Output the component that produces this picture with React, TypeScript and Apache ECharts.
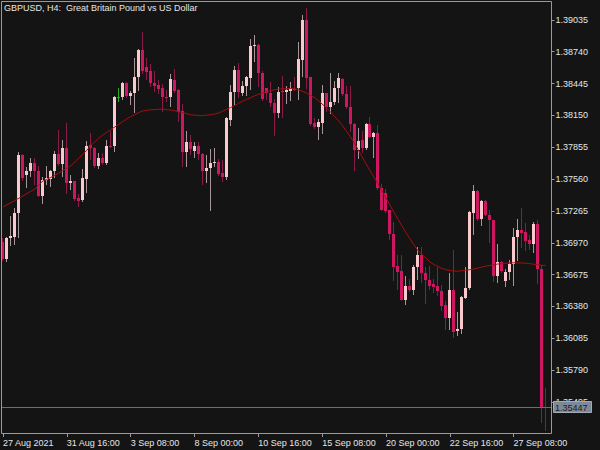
import React, { useEffect, useRef } from "react";
import * as echarts from "echarts";

const symbolTitle = "GBPUSD, H4:  Great Britain Pound vs US Dollar";

const timeLabels = [
  "27 Aug 2021", "31 Aug 16:00", "3 Sep 08:00", "8 Sep 00:00", "10 Sep 16:00",
  "15 Sep 08:00", "20 Sep 00:00", "22 Sep 16:00", "27 Sep 08:00",
];

const priceTicks = [
  1.39035, 1.3874, 1.38445, 1.3815, 1.37855, 1.3756, 1.37265, 1.3697, 1.36675,
  1.3638, 1.36085, 1.3579, 1.35495,
];

const opens = [
  1.36977, 1.36823, 1.37011, 1.37023, 1.37245, 1.37785, 1.376, 1.37633, 1.37707, 1.37639,
  1.37408, 1.37553, 1.37563, 1.37633, 1.37794, 1.37701, 1.37846, 1.37522, 1.37538, 1.37383,
  1.37362, 1.37563, 1.37877, 1.37846, 1.37679, 1.37753, 1.37707, 1.37871, 1.37864, 1.38317,
  1.38324, 1.3845, 1.38326, 1.38358, 1.38502, 1.38755, 1.38594, 1.38564, 1.3845, 1.38432,
  1.384, 1.38324, 1.38324, 1.38481, 1.38389, 1.38188, 1.37809, 1.37908, 1.37824, 1.37871,
  1.37794, 1.37639, 1.37661, 1.37707, 1.37723, 1.37618, 1.37577, 1.38111, 1.3837, 1.38573,
  1.38358, 1.38425, 1.38493, 1.38789, 1.38807, 1.38545, 1.384, 1.38354, 1.38265, 1.38173,
  1.38379, 1.38363, 1.38379, 1.38395, 1.384, 1.38666, 1.39035, 1.38502, 1.38077, 1.3804,
  1.3808, 1.38358, 1.38225, 1.38271, 1.384, 1.38487, 1.38348, 1.38225, 1.38071, 1.37834,
  1.37923, 1.37849, 1.38071, 1.37954, 1.37988, 1.37476, 1.3743, 1.3727, 1.37054, 1.36752,
  1.36706, 1.36438, 1.36567, 1.3653, 1.36745, 1.36854, 1.36694, 1.36622, 1.36585, 1.36567,
  1.36524, 1.36391, 1.36274, 1.36536, 1.36153, 1.36169, 1.36463, 1.36555, 1.37248, 1.37454,
  1.37189, 1.37356, 1.3723, 1.37177, 1.36662, 1.36792, 1.36616, 1.36699, 1.3677, 1.37023,
  1.37085, 1.37069, 1.36992, 1.36955, 1.37147, 1.36724, 1.3545,
];

const closes = [
  1.36823, 1.37017, 1.37032, 1.37248, 1.37785, 1.37568, 1.37633, 1.37707, 1.37633, 1.37408,
  1.37553, 1.37572, 1.37633, 1.37794, 1.37701, 1.37846, 1.37522, 1.37538, 1.37378, 1.37359,
  1.37568, 1.37871, 1.37846, 1.37679, 1.37753, 1.37707, 1.37871, 1.37864, 1.38324, 1.38317,
  1.3845, 1.38326, 1.38358, 1.38502, 1.38755, 1.38564, 1.38555, 1.38446, 1.38425, 1.38395,
  1.38317, 1.38308, 1.38487, 1.38379, 1.38178, 1.37809, 1.37908, 1.3784, 1.37871, 1.37794,
  1.37639, 1.37664, 1.37711, 1.37723, 1.37609, 1.37577, 1.38123, 1.3837, 1.38573, 1.38363,
  1.38425, 1.38502, 1.38795, 1.38807, 1.38539, 1.38302, 1.38354, 1.38265, 1.38176, 1.3837,
  1.38363, 1.38389, 1.38404, 1.38385, 1.38672, 1.39035, 1.38494, 1.38071, 1.3804, 1.38086,
  1.38358, 1.38225, 1.38277, 1.38404, 1.38493, 1.38348, 1.38225, 1.38071, 1.37834, 1.37917,
  1.37849, 1.38071, 1.37954, 1.37988, 1.37479, 1.37276, 1.37263, 1.37048, 1.36745, 1.36699,
  1.36444, 1.36567, 1.3653, 1.36745, 1.36854, 1.36694, 1.36622, 1.36567, 1.36561, 1.36524,
  1.36385, 1.36274, 1.36536, 1.36144, 1.36176, 1.36468, 1.36555, 1.37254, 1.37448, 1.37189,
  1.37356, 1.3723, 1.37177, 1.36662, 1.36792, 1.36708, 1.36699, 1.3677, 1.37023, 1.37085,
  1.37063, 1.36983, 1.36955, 1.37147, 1.36724, 1.3545, 1.35447,
];

const lows = [
  1.36807, 1.36801, 1.36946, 1.36962, 1.37023, 1.37553, 1.37485, 1.37587, 1.37516, 1.374,
  1.37337, 1.37516, 1.37494, 1.37577, 1.37695, 1.37593, 1.3743, 1.3747, 1.37362, 1.37313,
  1.37355, 1.37439, 1.37748, 1.37672, 1.37661, 1.377, 1.377, 1.3786, 1.37824, 1.38287,
  1.38302, 1.3832, 1.38256, 1.38178, 1.38385, 1.38545, 1.38487, 1.38425, 1.38379, 1.38354,
  1.38194, 1.38287, 1.3824, 1.38363, 1.381, 1.37686, 1.37686, 1.37794, 1.37762, 1.37748,
  1.37516, 1.37531, 1.3727, 1.37686, 1.376, 1.3754, 1.37563, 1.38062, 1.38256, 1.38324,
  1.38342, 1.38342, 1.38395, 1.38656, 1.38425, 1.38296, 1.38302, 1.3824, 1.37972, 1.38139,
  1.38139, 1.38262, 1.38293, 1.38383, 1.38302, 1.38511, 1.38404, 1.38065, 1.38035, 1.37932,
  1.37984, 1.38194, 1.38173, 1.38256, 1.38277, 1.38342, 1.38219, 1.38009, 1.37646, 1.37757,
  1.37809, 1.37843, 1.37948, 1.37762, 1.37473, 1.3727, 1.37257, 1.37008, 1.36622, 1.36546,
  1.36438, 1.36407, 1.36524, 1.36493, 1.36638, 1.36607, 1.36413, 1.36546, 1.36514, 1.36484,
  1.36352, 1.36167, 1.36167, 1.36098, 1.3612, 1.36135, 1.36457, 1.36546, 1.37054, 1.3718,
  1.37134, 1.37224, 1.36977, 1.36613, 1.36607, 1.36702, 1.36567, 1.36638, 1.36583, 1.36807,
  1.3693, 1.369, 1.36909, 1.36884, 1.36597, 1.35312, 1.35236,
];

const highs = [
  1.37011, 1.37023, 1.37214, 1.37295, 1.37809, 1.37794, 1.3767, 1.37757, 1.37757, 1.37686,
  1.37577, 1.37679, 1.37646, 1.37824, 1.38018, 1.37926, 1.3808, 1.37602, 1.37545, 1.37424,
  1.37655, 1.3791, 1.37988, 1.37855, 1.37799, 1.37803, 1.37923, 1.38009, 1.3833, 1.384,
  1.38462, 1.38462, 1.38379, 1.38681, 1.38765, 1.38924, 1.38678, 1.38626, 1.38564, 1.38478,
  1.38441, 1.38389, 1.38533, 1.3858, 1.38395, 1.38256, 1.38009, 1.37969, 1.37901, 1.37901,
  1.378, 1.37787, 1.3784, 1.37849, 1.37748, 1.37741, 1.38132, 1.38435, 1.3861, 1.38635,
  1.38471, 1.38518, 1.38857, 1.38894, 1.38815, 1.38564, 1.38407, 1.38456, 1.38302, 1.38416,
  1.38518, 1.38425, 1.38456, 1.38502, 1.38832, 1.39082, 1.39144, 1.38509, 1.38127, 1.38117,
  1.38435, 1.38361, 1.38543, 1.38471, 1.38539, 1.38494, 1.38425, 1.38425, 1.38077, 1.38034,
  1.38003, 1.38077, 1.38132, 1.38, 1.38065, 1.37516, 1.3747, 1.37276, 1.37161, 1.36854,
  1.36854, 1.36659, 1.36638, 1.36761, 1.3693, 1.3693, 1.36745, 1.36752, 1.36638, 1.36745,
  1.36576, 1.36428, 1.36694, 1.369, 1.36329, 1.36475, 1.36745, 1.3726, 1.3751, 1.3746,
  1.37369, 1.37362, 1.37276, 1.37183, 1.36962, 1.36798, 1.36731, 1.36807, 1.37107, 1.37189,
  1.37295, 1.37152, 1.37038, 1.37161, 1.37177, 1.36761, 1.35621,
];

const maValues = [
  1.37302, 1.37322, 1.37342, 1.37362, 1.37383, 1.37404, 1.37427, 1.37447, 1.37468, 1.37508,
  1.37542, 1.37559, 1.37576, 1.37596, 1.37617, 1.37639, 1.37662, 1.37685, 1.37718, 1.37755,
  1.37789, 1.37827, 1.3787, 1.37905, 1.37938, 1.37969, 1.37993, 1.38018, 1.38042, 1.38067,
  1.38093, 1.38117, 1.38138, 1.38157, 1.38176, 1.3819, 1.38197, 1.38202, 1.38204, 1.38207,
  1.38207, 1.38203, 1.382, 1.38193, 1.38185, 1.38176, 1.38167, 1.38157, 1.38152, 1.3815,
  1.38148, 1.38152, 1.38156, 1.38163, 1.38171, 1.38188, 1.38205, 1.38222, 1.3824, 1.38261,
  1.38281, 1.38298, 1.38313, 1.3833, 1.38345, 1.38356, 1.38368, 1.38379, 1.38387, 1.38394,
  1.38396, 1.38397, 1.38399, 1.38398, 1.38388, 1.38375, 1.38358, 1.38338, 1.38317, 1.38289,
  1.38255, 1.38225, 1.38186, 1.38145, 1.38105, 1.38062, 1.38009, 1.37956, 1.37901, 1.37835,
  1.37768, 1.37701, 1.37639, 1.37577, 1.37516, 1.37452, 1.37385, 1.3732, 1.37253, 1.3719,
  1.37126, 1.37066, 1.37008, 1.36951, 1.369, 1.36863, 1.3683, 1.36794, 1.36769, 1.36752,
  1.36733, 1.3672, 1.36715, 1.36709, 1.36706, 1.36711, 1.36716, 1.36721, 1.36728, 1.36736,
  1.36745, 1.36754, 1.3676, 1.36767, 1.36773, 1.36777, 1.36781, 1.36784, 1.36785, 1.36784,
  1.36783, 1.36781, 1.36777, 1.36772, 1.36768, 1.36763, 1.36758,
];

const BARS_PER_LABEL = 16;
const SLOT_COUNT = 138;
const Y_MIN = 1.35208;
const Y_MAX = 1.3921;

const FONT = "Liberation Sans";
const BG = "#141414";
const FRAME = "#9a9a9a";
const TEXT = "#e6e6e6";
const BULL_BODY = "#fac9cd";
const BEAR_BODY = "#cf1660";
const BULL_WICK = "#a8969a";
const BEAR_WICK = "#8a1a48";
const DOJI = "#22b022";
const MA_COLOR = "#a80e0e";
const PRICE_LINE = "#62707f";

export default function App() {
  const ref = useRef<HTMLDivElement>(null);

  useEffect(() => {
    document.body.style.margin = "0";
    document.body.style.background = BG;
    if (!ref.current) return;
    const chart = echarts.init(ref.current, null, { renderer: "svg" });

    const categories = Array.from({ length: SLOT_COUNT }, (_, i) => String(i));
    const candleData = opens.map((o, i) => [i, o, closes[i], lows[i], highs[i]]);
    const lastPrice = closes[closes.length - 1];
    const showIdx = (i: number) => i % BARS_PER_LABEL === 0;

    const frame = {
      id: "frame",
      type: "rect",
      silent: true,
      z: 100,
      shape: { x: 1.5, y: 1.5, width: 550, height: 432 },
      style: { fill: "none", stroke: FRAME, lineWidth: 1 },
    };

    chart.setOption({
      animation: false,
      backgroundColor: BG,
      title: {
        text: symbolTitle,
        left: 4,
        top: 3,
        padding: 0,
        textStyle: { color: TEXT, fontSize: 9, fontWeight: "normal", fontFamily: FONT },
      },
      grid: { left: -0.5, right: 48.5, top: 1, bottom: 17, containLabel: false },
      xAxis: {
        type: "category",
        data: categories,
        boundaryGap: true,
        axisLine: { show: false },
        axisTick: {
          show: true,
          alignWithLabel: true,
          interval: (i: number) => showIdx(i),
          length: 4,
          lineStyle: { color: FRAME, width: 1 },
        },
        axisLabel: {
          interval: (i: number) => showIdx(i),
          formatter: (_v: string, i: number) => timeLabels[i / BARS_PER_LABEL] ?? "",
          align: "left",
          margin: 5,
          color: TEXT,
          fontSize: 9,
          fontFamily: FONT,
        },
        splitLine: { show: false },
      },
      yAxis: {
        type: "value",
        position: "right",
        min: Y_MIN,
        max: Y_MAX,
        axisLine: { show: false },
        splitLine: { show: false },
        axisTick: {
          show: true,
          customValues: priceTicks,
          length: 3,
          lineStyle: { color: FRAME, width: 1 },
        },
        axisLabel: {
          customValues: priceTicks,
          formatter: (v: number) => v.toFixed(5),
          margin: 4,
          color: TEXT,
          fontSize: 9,
          fontFamily: FONT,
        },
      },
      graphic: [frame],
      series: [
        {
          type: "custom",
          data: candleData,
          encode: { x: 0, y: [1, 2, 3, 4] },
          z: 2,
          renderItem: (_params: any, api: any) => {
            const i = api.value(0);
            const o = api.value(1);
            const c = api.value(2);
            const l = api.value(3);
            const h = api.value(4);
            const po = api.coord([i, o]);
            const pc = api.coord([i, c]);
            const pl = api.coord([i, l]);
            const ph = api.coord([i, h]);
            const cx = Math.floor(po[0]) + 0.5;
            const doji = o === c;
            const up = c > o;
            const body = doji ? DOJI : up ? BULL_BODY : BEAR_BODY;
            const wick = doji ? DOJI : up ? BULL_WICK : BEAR_WICK;
            const top = Math.round(Math.min(po[1], pc[1]));
            let bot = Math.round(Math.max(po[1], pc[1]));
            if (bot - top < 1) bot = top + 1;
            return {
              type: "group",
              children: [
                {
                  type: "line",
                  shape: { x1: cx, y1: Math.round(ph[1]), x2: cx, y2: Math.round(pl[1]) + 1 },
                  style: { stroke: wick, lineWidth: 1 },
                },
                {
                  type: "rect",
                  shape: { x: cx - 1.5, y: top, width: 3, height: bot - top },
                  style: { fill: body },
                },
              ],
            };
          },
        },
        {
          type: "line",
          data: maValues,
          symbol: "none",
          z: 3,
          lineStyle: { color: MA_COLOR, width: 1 },
        },
      ],
    });

    // current price line and its tag, placed through the y axis scale
    const yPix = chart.convertToPixel({ yAxisIndex: 0 }, lastPrice) as number;
    const yLine = Math.round(yPix) + 0.5;
    chart.setOption({
      graphic: [
        frame,
        {
          id: "priceLine",
          type: "line",
          silent: true,
          z: 50,
          shape: { x1: 1.5, y1: yLine, x2: 551.5, y2: yLine },
          style: { stroke: PRICE_LINE, lineWidth: 1 },
        },
        {
          id: "priceTag",
          type: "rect",
          silent: true,
          z: 110,
          shape: { x: 553.5, y: yLine - 6, width: 38, height: 11 },
          style: { fill: "#7d8998", stroke: "#a3acb6", lineWidth: 1 },
        },
        {
          id: "priceText",
          type: "text",
          silent: true,
          z: 111,
          x: 555,
          y: yLine,
          style: {
            text: lastPrice.toFixed(5),
            fill: "#1b1b1b",
            fontSize: 9,
            fontFamily: FONT,
            verticalAlign: "middle",
            align: "left",
          },
        },
      ],
    });

    return () => chart.dispose();
  }, []);

  return (
    <div
      ref={ref}
      style={{ position: "fixed", left: 0, top: 0, width: 600, height: 450, background: BG }}
    />
  );
}
